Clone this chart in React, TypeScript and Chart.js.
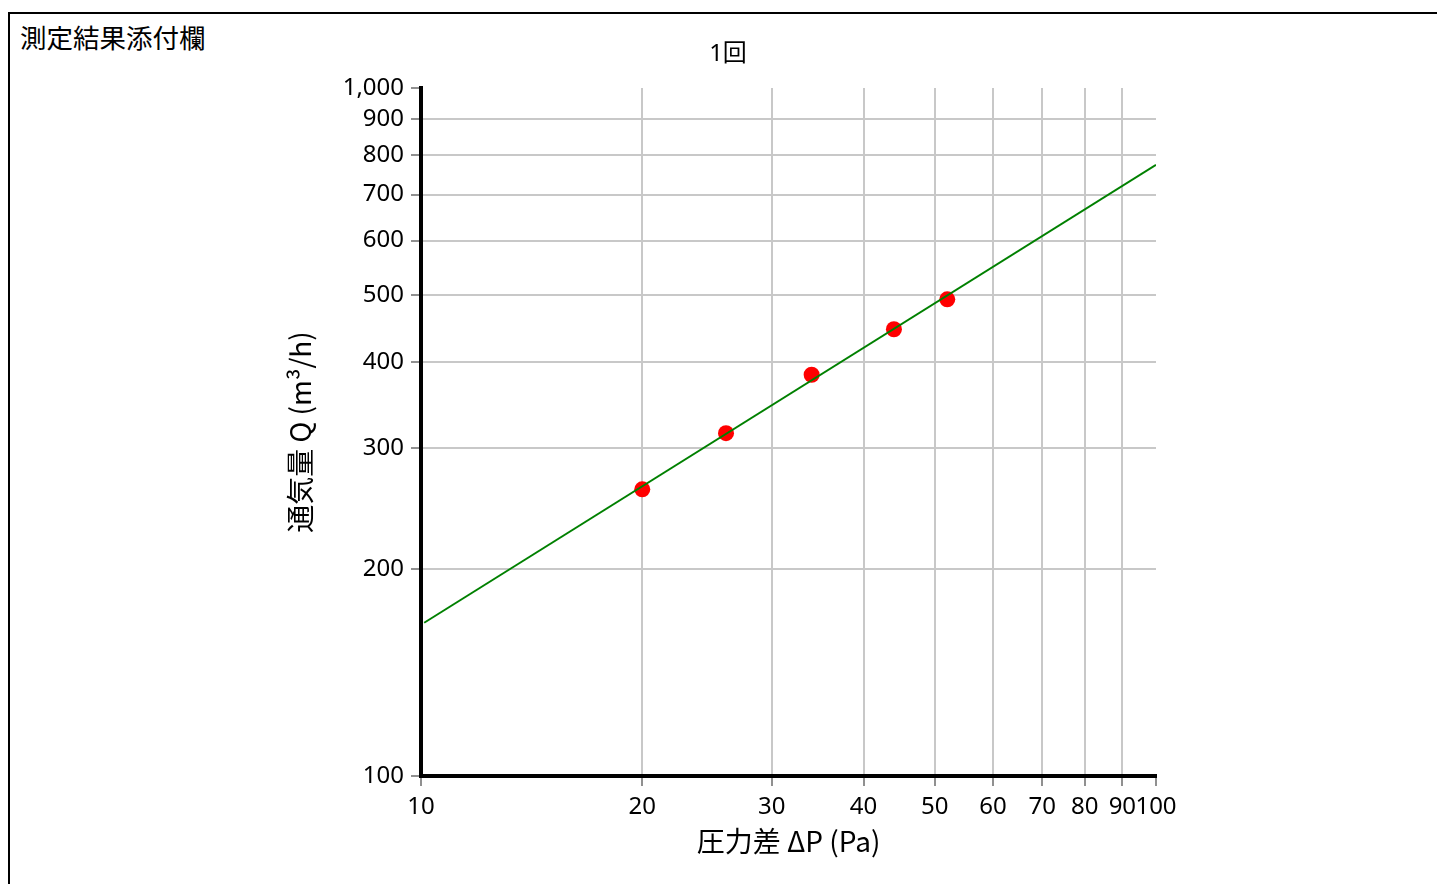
import React, { useEffect, useRef } from "react";
import { Chart, registerables } from "chart.js";

Chart.register(...registerables);

const X_TICKS = [10, 20, 30, 40, 50, 60, 70, 80, 90, 100];
const Y_TICKS = [100, 200, 300, 400, 500, 600, 700, 800, 900, 1000];
const DP = [20, 26, 34, 44, 52];
const Q = [261, 315, 383, 446, 493];
const FIT_X = [10.1, 100];
const FIT_Y = [167, 773];

const PAGE_TITLE = "測定結果添付欄";
const CHART_TITLE = "1回";
const X_TITLE = "圧力差 ΔP (Pa)";
const Y_TITLE = "通気量 Q (m³/h)";

const TICK_FAMILY = "'Noto Sans', 'Noto Sans CJK JP', sans-serif";
const TITLE_FAMILY = "'Noto Sans CJK JP', sans-serif";
const GRID = "#c8c8c8";
const TICK = "#909090";

export default function App() {
  const ref = useRef<HTMLCanvasElement | null>(null);

  useEffect(() => {
    if (!ref.current) return;
    const titlePlugin = {
      id: "fixedTitle",
      afterDraw(chart: any) {
        const ctx = chart.ctx;
        ctx.save();
        ctx.fillStyle = "#000";
        ctx.font = `24px ${TICK_FAMILY}`;
        ctx.textAlign = "center";
        ctx.textBaseline = "middle";
        ctx.fillText(CHART_TITLE, 728, 54);
        ctx.restore();
      },
    };
    const chart = new Chart(ref.current, {
      type: "scatter",
      data: {
        datasets: [
          {
            label: "fit",
            data: FIT_X.map((x, i) => ({ x, y: FIT_Y[i] })),
            showLine: true,
            borderColor: "#008000",
            borderWidth: 2,
            pointRadius: 0,
            pointHoverRadius: 0,
          },
          {
            label: "measured",
            data: DP.map((x, i) => ({ x, y: Q[i] })),
            showLine: false,
            backgroundColor: "#ff0000",
            borderColor: "#ff0000",
            borderWidth: 0,
            pointRadius: 8,
          },
        ],
      },
      options: {
        responsive: false,
        animation: false,
        layout: { padding: { left: 280, right: 281, top: 88, bottom: 22 } },
        plugins: {
          legend: { display: false },
          tooltip: { enabled: false },
          title: { display: false },
        },
        scales: {
          x: {
            type: "logarithmic",
            min: 10,
            max: 100,
            afterFit: (s: any) => {
              s.height = 86;
            },
            afterBuildTicks: (s: any) => {
              s.ticks = X_TICKS.map((v) => ({ value: v }));
            },
            grid: {
              color: (c: any) => (c.tick && c.tick.value === 100 ? "rgba(0,0,0,0)" : GRID),
              lineWidth: 2,
              tickColor: TICK,
              tickLength: 10,
              tickWidth: 2,
            },
            border: { display: true, color: "#000", width: 4 },
            ticks: {
              autoSkip: false,
              maxRotation: 0,
              padding: 7,
              color: "#000",
              font: { family: TICK_FAMILY, size: 24 },
              callback: (v: any) => String(v),
            },
            title: {
              display: true,
              text: X_TITLE,
              color: "#000",
              font: { family: TITLE_FAMILY, size: 28 },
            },
          },
          y: {
            type: "logarithmic",
            min: 100,
            max: 1000,
            afterFit: (s: any) => {
              s.width = 141;
            },
            afterBuildTicks: (s: any) => {
              s.ticks = Y_TICKS.map((v) => ({ value: v }));
            },
            grid: {
              color: (c: any) => (c.tick && c.tick.value === 1000 ? "rgba(0,0,0,0)" : GRID),
              lineWidth: 2,
              tickColor: TICK,
              tickLength: 10,
              tickWidth: 2,
            },
            border: { display: true, color: "#000", width: 4 },
            ticks: {
              autoSkip: false,
              padding: 7,
              color: "#000",
              font: { family: TICK_FAMILY, size: 24 },
              callback: (v: any) => Number(v).toLocaleString("en-US"),
            },
            title: {
              display: true,
              text: Y_TITLE,
              color: "#000",
              font: { family: TITLE_FAMILY, size: 28 },
            },
          },
        },
      },
      plugins: [titlePlugin],
    });
    return () => chart.destroy();
  }, []);

  return (
    <div
      style={{
        position: "fixed",
        left: 0,
        top: 0,
        width: 1437,
        height: 884,
        overflow: "hidden",
        background: "#fff",
      }}
    >
      <div
        style={{
          position: "absolute",
          left: 8,
          top: 12,
          width: 1500,
          height: 1000,
          border: "2px solid #000",
          boxSizing: "border-box",
        }}
      />
      <div
        style={{
          position: "absolute",
          left: 20,
          top: 22,
          fontFamily: TITLE_FAMILY,
          fontSize: 26.5,
          lineHeight: "30px",
          color: "#000",
          whiteSpace: "nowrap",
        }}
      >
        {PAGE_TITLE}
      </div>
      <canvas
        ref={ref}
        width={1437}
        height={884}
        style={{ position: "absolute", left: 0, top: 0, width: 1437, height: 884 }}
      />
    </div>
  );
}
